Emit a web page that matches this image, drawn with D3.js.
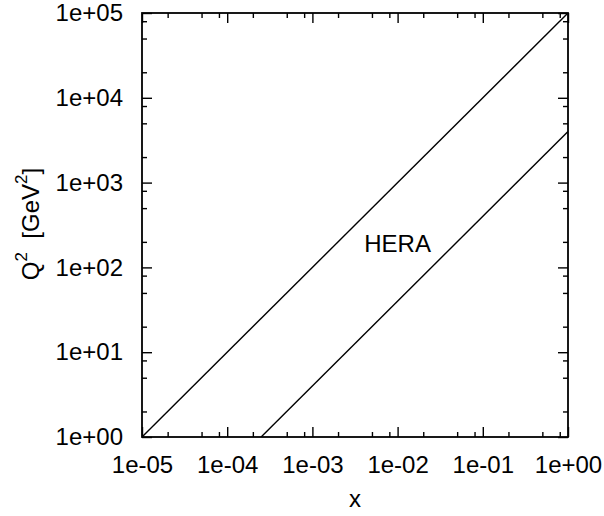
<!DOCTYPE html>
<html>
<head>
<meta charset="utf-8">
<script src="https://cdn.jsdelivr.net/npm/d3@7"></script>
<style>
  html, body { margin: 0; padding: 0; background: #fff; }
  svg { display: block; }
  text { font-family: "Liberation Sans", Arial, sans-serif; fill: #000; }
</style>
</head>
<body>
<svg id="chart" width="604" height="516"></svg>
<script>
// ---- data ----
const xDomain = [1e-5, 1];
const yDomain = [1, 1e5];
const xTickValues = [1e-5, 1e-4, 1e-3, 1e-2, 1e-1, 1];
const xTickLabels = ["1e-05", "1e-04", "1e-03", "1e-02", "1e-01", "1e+00"];
const yTickValues = [1, 10, 100, 1000, 1e4, 1e5];
const yTickLabels = ["1e+00", "1e+01", "1e+02", "1e+03", "1e+04", "1e+05"];
const minorMultipliers = [2, 5, 8];
// upper kinematic limit (y = 1) and lower line (y = 0.04)
const upperX = [1e-5, 1];
const upperQ2 = [1, 1e5];
const lowerX = [2.5e-4, 1];
const lowerQ2 = [1, 4000];
const annotation = { text: "HERA", x: 0.01, q2: 150 };

// ---- layout ----
const svg = d3.select("#chart");
const L = 142, R = 568, T = 13, B = 437;
const x = d3.scaleLog().domain(xDomain).range([L, R]);
const y = d3.scaleLog().domain(yDomain).range([B, T]);

function minors(domain) {
  const out = [];
  for (let d = Math.log10(domain[0]); d < Math.log10(domain[1]); d++) {
    for (const m of minorMultipliers) out.push(m * Math.pow(10, d));
  }
  return out;
}
const xMinor = minors(xDomain);
const yMinor = minors(yDomain);

const fs = 24;
const g = svg.append("g");

const major = 10, minor = 5;
function styleAxis(sel) {
  sel.select(".domain").remove();
  sel.selectAll("line").attr("stroke", "#000").attr("stroke-width", 1.4);
}
function styleText(sel) {
  sel.selectAll("text").attr("font-size", fs)
    .attr("font-family", "Liberation Sans, Arial, sans-serif").attr("fill", "#000");
}
// bottom
g.append("g").attr("transform", `translate(0,${B})`)
  .call(d3.axisBottom(x).tickValues(xTickValues).tickSize(-major).tickFormat((d, i) => xTickLabels[i]).tickPadding(19))
  .call(styleAxis).call(styleText);
g.append("g").attr("transform", `translate(0,${B})`)
  .call(d3.axisBottom(x).tickValues(xMinor).tickSize(-minor).tickFormat(""))
  .call(styleAxis);
// top
g.append("g").attr("transform", `translate(0,${T})`)
  .call(d3.axisTop(x).tickValues(xTickValues).tickSize(-major).tickFormat(""))
  .call(styleAxis);
g.append("g").attr("transform", `translate(0,${T})`)
  .call(d3.axisTop(x).tickValues(xMinor).tickSize(-minor).tickFormat(""))
  .call(styleAxis);
// left
g.append("g").attr("transform", `translate(${L},0)`)
  .call(d3.axisLeft(y).tickValues(yTickValues).tickSize(-major).tickFormat((d, i) => yTickLabels[i]).tickPadding(19))
  .call(styleAxis).call(styleText);
g.append("g").attr("transform", `translate(${L},0)`)
  .call(d3.axisLeft(y).tickValues(yMinor).tickSize(-minor).tickFormat(""))
  .call(styleAxis);
// right
g.append("g").attr("transform", `translate(${R},0)`)
  .call(d3.axisRight(y).tickValues(yTickValues).tickSize(-major).tickFormat(""))
  .call(styleAxis);
g.append("g").attr("transform", `translate(${R},0)`)
  .call(d3.axisRight(y).tickValues(yMinor).tickSize(-minor).tickFormat(""))
  .call(styleAxis);

// data lines
const line = d3.line().x(d => x(d[0])).y(d => y(d[1]));
svg.append("clipPath").attr("id", "clip").append("rect")
  .attr("x", L).attr("y", T).attr("width", R - L).attr("height", B - T);
[[upperX, upperQ2], [lowerX, lowerQ2]].forEach(([xs, ys]) => {
  g.append("path")
    .datum(xs.map((v, i) => [v, ys[i]]))
    .attr("d", line)
    .attr("fill", "none").attr("stroke", "#000").attr("stroke-width", 1.4)
    .attr("clip-path", "url(#clip)");
});

// frame
g.append("rect").attr("x", L).attr("y", T).attr("width", R - L).attr("height", B - T)
  .attr("fill", "none").attr("stroke", "#000").attr("stroke-width", 1.8);

// annotation
g.append("text").attr("x", x(annotation.x)).attr("y", y(annotation.q2))
  .attr("text-anchor", "middle").attr("font-size", fs).text(annotation.text);

// axis titles
g.append("text").attr("x", (L + R) / 2).attr("y", 507).attr("text-anchor", "middle")
  .attr("font-size", fs).text("x");
const yt = g.append("text").attr("transform", `translate(39,224) rotate(-90)`)
  .attr("text-anchor", "middle").attr("font-size", fs);
yt.append("tspan").text("Q");
yt.append("tspan").attr("dy", -12).attr("font-size", 17).text("2");
yt.append("tspan").attr("dy", 12).text("\u00a0\u00a0[GeV");
yt.append("tspan").attr("dy", -12).attr("font-size", 17).text("2");
yt.append("tspan").attr("dy", 12).text("]");
</script>
</body>
</html>
